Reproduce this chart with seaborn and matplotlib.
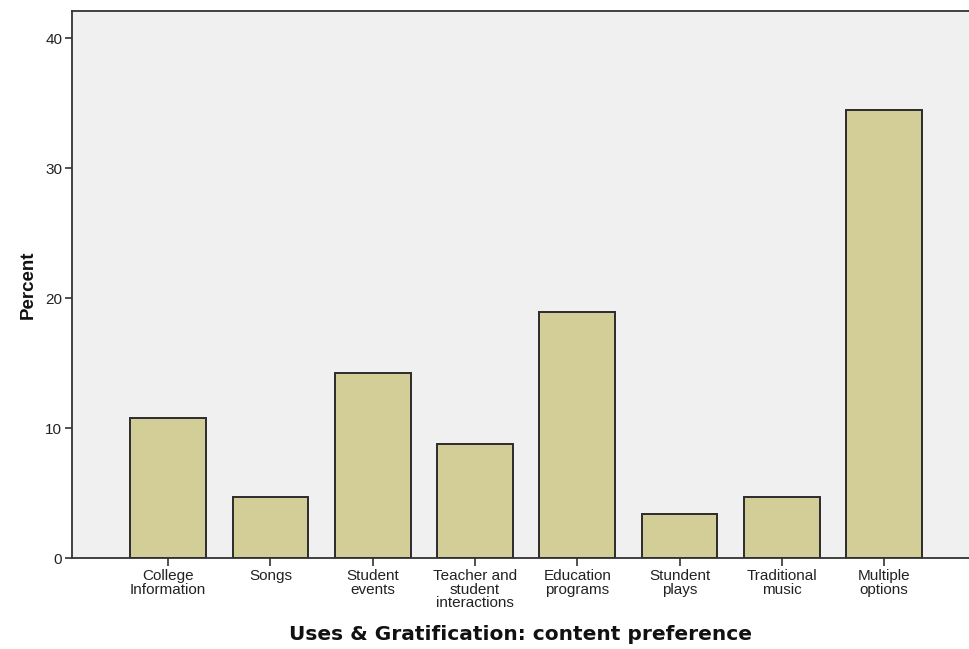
import pandas as pd
import matplotlib
matplotlib.use("Agg")
import matplotlib.pyplot as plt
import seaborn as sns

# content preference categories and percentages
categories = [
    "College\nInformation",
    "Songs",
    "Student\nevents",
    "Teacher and\nstudent\ninteractions",
    "Education\nprograms",
    "Stundent\nplays",
    "Traditional\nmusic",
    "Multiple\noptions",
]
percent = [10.8, 4.7, 14.2, 8.8, 18.9, 3.4, 4.7, 34.5]
y_ticks = [0, 10, 20, 30, 40]

df = pd.DataFrame({"Category": categories, "Percent": percent})

sns.set_theme(style="white")
plt.rcParams["font.family"] = ["Liberation Sans", "DejaVu Sans"]

fig = plt.figure(figsize=(9.69, 6.49), dpi=100)
ax = fig.add_axes([72 / 969, 1 - 558 / 649, 1 - 72 / 969, (558 - 11) / 649])
ax.set_facecolor("#F0F0F0")

sns.barplot(
    data=df,
    x="Category",
    y="Percent",
    order=categories,
    color="#D3CE97",
    saturation=1,
    width=0.74,
    edgecolor="#2b2b2b",
    linewidth=1.4,
    ax=ax,
)

ax.set_xlim(-0.94, 7.83)
ax.set_ylim(0, 42.08)
ax.set_yticks(y_ticks)
ax.set_yticklabels([str(t) for t in y_ticks], fontsize=11, color="#222222")
ax.set_xticks(range(len(categories)))
ax.set_xticklabels(categories, fontsize=11, color="#222222", linespacing=0.95)
ax.tick_params(axis="both", direction="out", length=5, width=1.2, color="#333333", pad=2,
               left=True, bottom=True)
ax.tick_params(axis="x", length=6)

for side in ["left", "top", "bottom"]:
    ax.spines[side].set_visible(True)
    ax.spines[side].set_color("#333333")
    ax.spines[side].set_linewidth(1.3)
ax.spines["right"].set_visible(False)

ax.set_ylabel("Percent", fontsize=13.5, fontweight="bold", color="#111111", labelpad=6)
ax.set_xlabel(
    "Uses & Gratification: content preference",
    fontsize=14.5,
    fontweight="bold",
    family="DejaVu Sans",
    color="#111111",
    labelpad=11,
)

fig.savefig("out.png", dpi=100)
